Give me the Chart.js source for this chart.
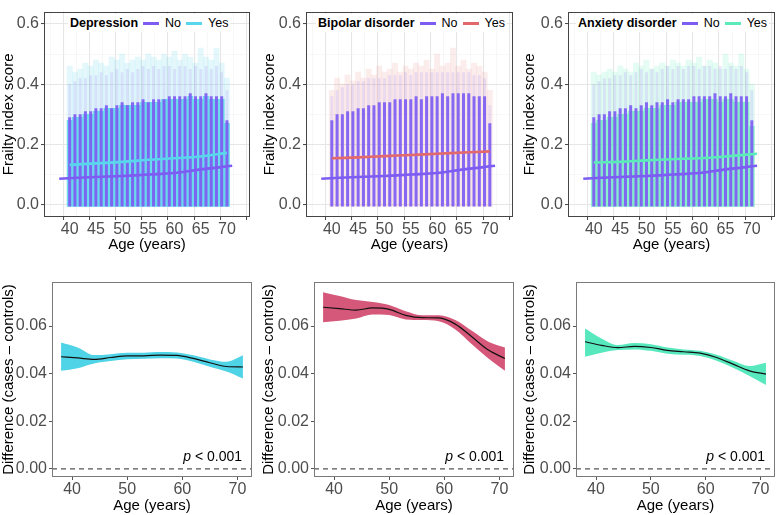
<!DOCTYPE html>
<html>
<head>
<meta charset="utf-8">
<script src="https://cdn.jsdelivr.net/npm/chart.js@4.4.1/dist/chart.umd.min.js"></script>
<style>
  body { margin: 0; background: #fff; width: 777px; height: 515px; position: relative; overflow: hidden;
         font-family: "Liberation Sans", Arial, sans-serif; }
  canvas { position: absolute; }
  .leg { position: absolute; font-size: 12.5px; line-height: 18px; display: flex; align-items: center;
         background: #fff; color: #000; white-space: nowrap; padding: 0 2px; }
  .leg b { margin-right: 5px; }
  .sw { display: inline-block; width: 16px; height: 3px; margin-right: 6px; }
  .lab { margin-right: 5px; }
</style>
</head>
<body>
<canvas id="dep" width="258" height="262" style="left:0;top:0"></canvas>
<canvas id="bip" width="258" height="262" style="left:258px;top:0"></canvas>
<canvas id="anx" width="261" height="262" style="left:516px;top:0"></canvas>
<canvas id="depDiff" width="260" height="249" style="left:0;top:266px"></canvas>
<canvas id="bipDiff" width="258" height="249" style="left:260px;top:266px"></canvas>
<canvas id="anxDiff" width="259" height="249" style="left:518px;top:266px"></canvas>

<div class="leg" style="left:68px;top:14px"><b>Depression</b><span class="sw" style="background:#7C5CF2"></span><span class="lab">No</span><span class="sw" style="background:#5AD6EC"></span>Yes</div>
<div class="leg" style="left:316px;top:14px"><b>Bipolar disorder</b><span class="sw" style="background:#7C5CF2"></span><span class="lab">No</span><span class="sw" style="background:#E3686C"></span>Yes</div>
<div class="leg" style="left:576px;top:14px"><b>Anxiety disorder</b><span class="sw" style="background:#7C5CF2"></span><span class="lab">No</span><span class="sw" style="background:#5CEBB8"></span>Yes</div>

<script>
// ---- data ----
const ages = [40,41,42,43,44,45,46,47,48,49,50,51,52,53,54,55,56,57,58,59,60,61,62,63,64,65,66,67,68,69,70];

// depression: top of dense stripes and top of sparse points
const depNoTop   = [0.29,0.30,0.30,0.31,0.31,0.32,0.32,0.33,0.32,0.33,0.34,0.33,0.34,0.34,0.35,0.34,0.35,0.35,0.35,0.36,0.36,0.36,0.36,0.37,0.36,0.36,0.37,0.36,0.36,0.36,0.28];
const depNoHalo  = [0.40,0.41,0.42,0.42,0.43,0.43,0.44,0.43,0.44,0.45,0.44,0.45,0.44,0.45,0.46,0.45,0.46,0.45,0.46,0.46,0.45,0.46,0.46,0.45,0.46,0.45,0.46,0.45,0.46,0.44,0.38];
const depYesTop  = [0.28,0.29,0.29,0.30,0.30,0.31,0.31,0.32,0.32,0.32,0.33,0.33,0.33,0.33,0.34,0.34,0.34,0.34,0.35,0.35,0.35,0.35,0.35,0.36,0.35,0.35,0.36,0.35,0.35,0.35,0.27];
const depYesHalo = [0.46,0.44,0.45,0.47,0.46,0.48,0.47,0.46,0.49,0.48,0.50,0.47,0.48,0.49,0.48,0.50,0.49,0.48,0.50,0.49,0.51,0.48,0.50,0.49,0.47,0.52,0.49,0.48,0.52,0.47,0.42];

// bipolar disorder
const bipNoTop   = [0.28,0.30,0.30,0.31,0.31,0.32,0.32,0.33,0.33,0.34,0.34,0.34,0.35,0.35,0.35,0.35,0.36,0.35,0.36,0.36,0.36,0.37,0.36,0.37,0.37,0.37,0.37,0.36,0.36,0.36,0.27];
const bipNoHalo  = [0.36,0.38,0.39,0.40,0.40,0.41,0.41,0.42,0.42,0.42,0.42,0.43,0.43,0.43,0.44,0.43,0.44,0.44,0.44,0.44,0.44,0.44,0.44,0.44,0.44,0.44,0.44,0.43,0.43,0.42,0.33];
const bipYesTop  = [0.38,0.42,0.40,0.43,0.41,0.44,0.42,0.45,0.43,0.46,0.44,0.45,0.47,0.44,0.46,0.45,0.47,0.46,0.48,0.45,0.50,0.46,0.47,0.52,0.46,0.48,0.45,0.47,0.46,0.44,0.38];

// anxiety disorder
const anxNoTop   = [0.29,0.30,0.30,0.31,0.31,0.32,0.32,0.33,0.32,0.33,0.34,0.33,0.34,0.34,0.35,0.34,0.35,0.35,0.35,0.36,0.36,0.36,0.36,0.37,0.36,0.36,0.37,0.36,0.36,0.36,0.28];
const anxNoHalo  = [0.40,0.41,0.42,0.42,0.43,0.43,0.44,0.43,0.44,0.45,0.44,0.45,0.44,0.45,0.46,0.45,0.46,0.45,0.46,0.46,0.45,0.46,0.46,0.45,0.46,0.45,0.46,0.45,0.46,0.44,0.38];
const anxYesTop  = [0.27,0.28,0.28,0.29,0.29,0.30,0.30,0.31,0.31,0.31,0.32,0.32,0.32,0.33,0.33,0.33,0.34,0.34,0.34,0.34,0.34,0.35,0.35,0.35,0.34,0.35,0.35,0.34,0.34,0.34,0.26];
const anxYesHalo = [0.44,0.43,0.44,0.45,0.44,0.46,0.45,0.44,0.47,0.46,0.48,0.45,0.46,0.47,0.46,0.48,0.47,0.46,0.48,0.47,0.49,0.46,0.48,0.47,0.45,0.50,0.47,0.46,0.50,0.45,0.40];

// smoothed trend lines (frailty index vs age)
const noLineAges  = [38, 45, 50, 55, 60, 65, 71];
const noLineVals  = [0.086, 0.092, 0.095, 0.100, 0.105, 0.117, 0.129];
const yesLineAges = [40, 45, 50, 55, 60, 65, 70];
const depYesVals  = [0.132, 0.137, 0.142, 0.149, 0.154, 0.160, 0.172];
const bipYesVals  = [0.154, 0.157, 0.161, 0.165, 0.169, 0.173, 0.177];
const anxYesAges  = [40, 45, 50, 55, 60, 65, 71];
const anxYesVals  = [0.140, 0.142, 0.147, 0.151, 0.154, 0.160, 0.169];

// difference (cases - controls) with confidence band
const diffAges = [38, 41, 44, 47, 50, 53, 56, 59, 62, 65, 68, 71];
const depMid = [0.0471,0.0466,0.0460,0.0468,0.0475,0.0475,0.0478,0.0477,0.0464,0.0446,0.0430,0.0428];
const depUp  = [0.0531,0.0510,0.0478,0.0482,0.0488,0.0488,0.0491,0.0489,0.0477,0.0460,0.0450,0.0477];
const depLo  = [0.0412,0.0423,0.0443,0.0453,0.0461,0.0463,0.0465,0.0464,0.0450,0.0429,0.0409,0.0380];
const bipMid = [0.0679,0.0673,0.0667,0.0676,0.0670,0.0645,0.0635,0.0634,0.0608,0.0555,0.0499,0.0464];
const bipUp  = [0.0742,0.0726,0.0709,0.0701,0.0688,0.0662,0.0645,0.0645,0.0625,0.0580,0.0534,0.0510];
const bipLo  = [0.0616,0.0622,0.0632,0.0649,0.0646,0.0628,0.0625,0.0620,0.0586,0.0524,0.0464,0.0412];
const anxMid = [0.0534,0.0519,0.0509,0.0515,0.0510,0.0498,0.0492,0.0486,0.0468,0.0440,0.0412,0.0398];
const anxUp  = [0.0590,0.0548,0.0520,0.0529,0.0524,0.0510,0.0502,0.0496,0.0479,0.0454,0.0432,0.0446];
const anxLo  = [0.0471,0.0488,0.0499,0.0502,0.0496,0.0484,0.0479,0.0474,0.0454,0.0425,0.0390,0.0352];

// ticks
const xTopTicks = [37.5,40,42.5,45,47.5,50,52.5,55,57.5,60,62.5,65,67.5,70,72.5];
const yTopTicks = [0,0.1,0.2,0.3,0.4,0.5,0.6];
const xBotTicks = [40,50,60,70];
const yBotTicks = [0,0.02,0.04,0.06];

// ---- styling ----
const FONT = '"Liberation Sans", Arial, sans-serif';
Chart.defaults.font.family = FONT;
const NO_COL = '#7C5CF2';
const X_BOT = [36.35, 72.65];
const TICK_SIZE = 16;

function rgba(hex, a) {
  const n = parseInt(hex.slice(1), 16);
  return `rgba(${n >> 16},${(n >> 8) & 255},${n & 255},${a})`;
}
function pts(xs, ys) { return xs.map((x, i) => ({ x, y: ys[i] })); }
function floating(lo, hi) { return ages.map((a, i) => ({ x: a, y: [Array.isArray(lo) ? lo[i] : lo, hi[i]] })); }

function boxPlugin(color) {
  return {
    id: 'box',
    afterDatasetsDraw(chart) {
      const { ctx, chartArea: a } = chart;
      ctx.save();
      ctx.strokeStyle = color;
      ctx.lineWidth = 1;
      ctx.strokeRect(Math.round(a.left) + 0.5, Math.round(a.top) + 0.5,
                     Math.round(a.right - a.left) - 1, Math.round(a.bottom - a.top) - 1);
      ctx.restore();
    }
  };
}

const pLabel = {
  id: 'pLabel',
  afterDatasetsDraw(chart) {
    const { ctx, chartArea, scales } = chart;
    const y = scales.y.getPixelForValue(0) - 8;
    const xr = chartArea.right - 10;
    const rest = ' < 0.001';
    ctx.save();
    ctx.fillStyle = '#000';
    ctx.textBaseline = 'alphabetic';
    ctx.textAlign = 'left';
    ctx.font = '14px ' + FONT;
    const w2 = ctx.measureText(rest).width;
    ctx.fillText(rest, xr - w2, y);
    ctx.font = 'italic 14px ' + FONT;
    const w1 = ctx.measureText('p').width;
    ctx.fillText('p', xr - w2 - w1, y);
    ctx.restore();
  }
};

// major/minor helpers for the grid (context may lack a tick)
const tv = c => (c && c.tick) ? c.tick.value : 0;
const isMajX = v => v % 5 === 0;
const isMajY = v => Math.round(v * 10) % 2 === 0;

function topChart(id, o) {
  const datasets = [
    { type: 'line', data: pts(noLineAges, noLineVals), borderColor: NO_COL, borderWidth: 2.6,
      pointRadius: 0, tension: 0.4, order: 0 },
    { type: 'line', data: pts(o.yesAges, o.yesVals), borderColor: o.yesCol, borderWidth: 2.6,
      pointRadius: 0, tension: 0.4, order: 0 },
    { type: 'bar', data: floating(-0.006, o.noTop), backgroundColor: rgba(NO_COL, 0.92),
      barPercentage: 0.58, categoryPercentage: 1, grouped: false, order: 1 },
    { type: 'bar', data: floating(o.noTop, o.noHalo), backgroundColor: rgba(NO_COL, 0.14),
      barPercentage: 0.58, categoryPercentage: 1, grouped: false, order: 2 },
    { type: 'bar', data: floating(-0.006, o.yesTop), backgroundColor: rgba(o.yesCol, o.yesA),
      barPercentage: 1, categoryPercentage: 1, grouped: false, order: 3 }
  ];
  if (o.yesHalo) {
    datasets.push({ type: 'bar', data: floating(o.yesTop, o.yesHalo), backgroundColor: rgba(o.yesCol, 0.16),
      barPercentage: 1, categoryPercentage: 1, grouped: false, order: 3 });
  }
  return new Chart(document.getElementById(id), {
    type: 'bar',
    data: { datasets },
    plugins: [boxPlugin('#444')],
    options: {
      responsive: false, animation: false, devicePixelRatio: 1,
      layout: { padding: { left: 0, right: o.padR, top: 1, bottom: 0 } },
      plugins: { legend: { display: false }, tooltip: { enabled: false } },
      scales: {
        x: {
          type: 'linear', min: 35.1, max: 74.4, offset: false,
          afterBuildTicks: s => { s.ticks = xTopTicks.map(v => ({ value: v })); },
          afterFit: s => { s.height = 45; },
          border: { display: false },
          grid: {
            color: c => isMajX(tv(c)) ? '#E6E6E6' : '#F1F1F1',
            lineWidth: c => isMajX(tv(c)) ? 1.1 : 0.6,
            tickColor: c => isMajX(tv(c)) ? '#444' : 'rgba(0,0,0,0)',
            tickWidth: 1, tickLength: 3
          },
          ticks: { autoSkip: false, maxRotation: 0, padding: 0, color: '#4D4D4D', font: { size: TICK_SIZE },
                   callback: v => isMajX(v) ? String(v) : '' },
          title: { display: true, text: 'Age (years)', color: '#000', font: { size: 15 }, padding: { top: 0, bottom: 8 } }
        },
        y: {
          min: -0.041, max: 0.641,
          afterBuildTicks: s => { s.ticks = yTopTicks.map(v => ({ value: v })); },
          afterFit: s => { s.width = o.yW; },
          border: { display: false },
          grid: {
            color: c => isMajY(tv(c)) ? '#E6E6E6' : '#F1F1F1',
            lineWidth: c => isMajY(tv(c)) ? 1.1 : 0.6,
            tickColor: c => isMajY(tv(c)) ? '#444' : 'rgba(0,0,0,0)',
            tickWidth: 1, tickLength: 3
          },
          ticks: { autoSkip: false, padding: 2, color: '#4D4D4D', font: { size: TICK_SIZE },
                   callback: v => isMajY(v) ? v.toFixed(1) : '' },
          title: { display: true, text: 'Frailty index score', color: '#000', font: { size: 15 }, padding: { top: o.tPad, bottom: 0 } }
        }
      }
    }
  });
}

function diffChart(id, o) {
  return new Chart(document.getElementById(id), {
    type: 'line',
    data: {
      datasets: [
        { data: pts(diffAges, o.lo), borderWidth: 0, borderColor: 'rgba(0,0,0,0)', pointRadius: 0,
          cubicInterpolationMode: 'monotone', fill: false, order: 2 },
        { data: pts(diffAges, o.up), borderWidth: 0, borderColor: 'rgba(0,0,0,0)', pointRadius: 0,
          cubicInterpolationMode: 'monotone', fill: '-1', backgroundColor: o.col, order: 2 },
        { data: pts(diffAges, o.mid), borderWidth: 1.2, borderColor: '#111', pointRadius: 0,
          cubicInterpolationMode: 'monotone', fill: false, order: 0 },
        { data: [{ x: X_BOT[0], y: 0 }, { x: X_BOT[1], y: 0 }], borderWidth: 1.3, borderColor: '#555',
          borderDash: [5, 4], pointRadius: 0, fill: false, order: 1 }
      ]
    },
    plugins: [boxPlugin('#7A7A7A'), pLabel],
    options: {
      responsive: false, animation: false, devicePixelRatio: 1,
      layout: { padding: { left: 0, right: o.padR, top: 16, bottom: 0 } },
      plugins: { legend: { display: false }, tooltip: { enabled: false } },
      scales: {
        x: {
          type: 'linear', min: X_BOT[0], max: X_BOT[1],
          afterBuildTicks: s => { s.ticks = xBotTicks.map(v => ({ value: v })); },
          afterFit: s => { s.height = 38; },
          border: { display: false },
          grid: { drawOnChartArea: false, tickColor: '#555', tickWidth: 1, tickLength: 3 },
          ticks: { autoSkip: false, maxRotation: 0, padding: 0, color: '#4D4D4D', font: { size: TICK_SIZE } },
          title: { display: true, text: 'Age (years)', color: '#000', font: { size: 15 }, padding: { top: 0, bottom: 0 } }
        },
        y: {
          min: -0.0034, max: 0.0785,
          afterBuildTicks: s => { s.ticks = yBotTicks.map(v => ({ value: v })); },
          afterFit: s => { s.width = o.yW; },
          border: { display: false },
          grid: { drawOnChartArea: false, tickColor: '#555', tickWidth: 1, tickLength: 3 },
          ticks: { autoSkip: false, padding: 2, color: '#4D4D4D', font: { size: TICK_SIZE },
                   callback: v => v.toFixed(2) },
          title: { display: true, text: 'Difference (cases \u2013 controls)', color: '#000', font: { size: 15 },
                   padding: { top: o.tPad, bottom: 0 } }
        }
      }
    }
  });
}

topChart('dep', { yW: 44, padR: 8, tPad: 0, yesCol: '#5AD6EC', yesA: 0.85,
  noTop: depNoTop, noHalo: depNoHalo, yesTop: depYesTop, yesHalo: depYesHalo,
  yesAges: yesLineAges, yesVals: depYesVals });
topChart('bip', { yW: 48, padR: 3, tPad: 3, yesCol: '#E3686C', yesA: 0.12,
  noTop: bipNoTop, noHalo: bipNoHalo, yesTop: bipYesTop, yesHalo: null,
  yesAges: yesLineAges, yesVals: bipYesVals });
topChart('anx', { yW: 52, padR: 2, tPad: 5, yesCol: '#5CEBB8', yesA: 0.65,
  noTop: anxNoTop, noHalo: anxNoHalo, yesTop: anxYesTop, yesHalo: anxYesHalo,
  yesAges: anxYesAges, yesVals: anxYesVals });

diffChart('depDiff', { yW: 52, padR: 8, tPad: 0, col: '#4FD3E6', mid: depMid, up: depUp, lo: depLo });
diffChart('bipDiff', { yW: 54, padR: 4, tPad: 0, col: '#D5587A', mid: bipMid, up: bipUp, lo: bipLo });
diffChart('anxDiff', { yW: 58, padR: 2, tPad: 3, col: '#58E8BE', mid: anxMid, up: anxUp, lo: anxLo });
</script>
</body>
</html>
